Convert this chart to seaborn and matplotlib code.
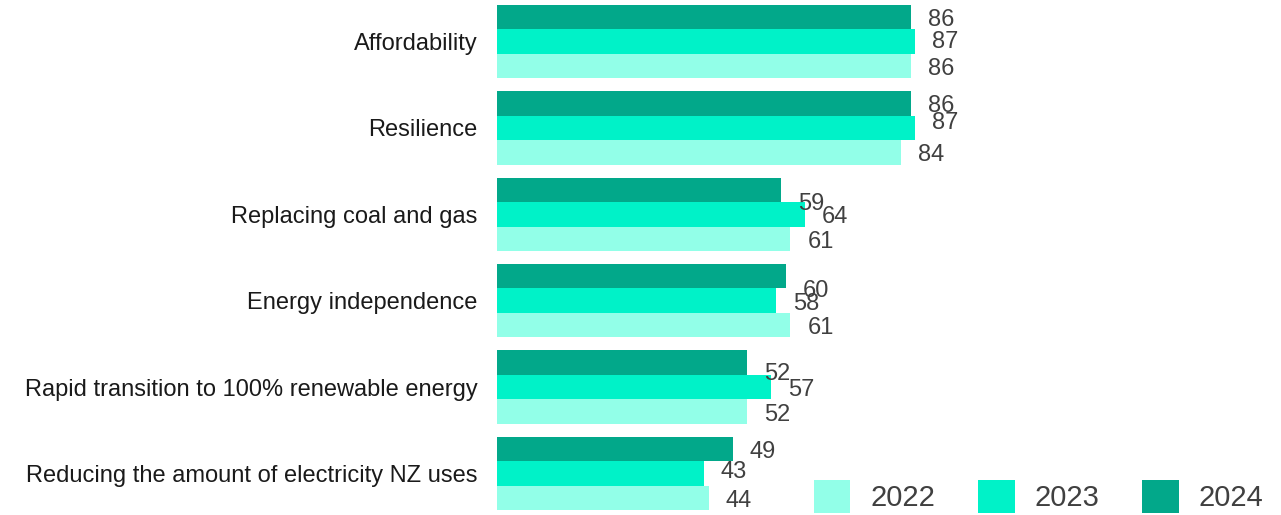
import matplotlib.pyplot as plt
import pandas as pd
import seaborn as sns
from matplotlib.patches import Patch

categories = [
    "Affordability",
    "Resilience",
    "Replacing coal and gas",
    "Energy independence",
    "Rapid transition to 100% renewable energy",
    "Reducing the amount of electricity NZ uses",
]
years = ["2022", "2023", "2024"]
values_2022 = [86, 84, 61, 61, 52, 44]
values_2023 = [87, 87, 64, 58, 57, 43]
values_2024 = [86, 86, 59, 60, 52, 49]

COLORS = {"2022": "#92FFE8", "2023": "#00F2C8", "2024": "#02A88A"}
TEXT = "#404040"

# manual label nudges (pixels, down is positive) to mimic the original placement
nudge = {
    ("2023", "Affordability"): -2,
    ("2023", "Resilience"): -8,
    ("2024", "Replacing coal and gas"): 11,
    ("2024", "Energy independence"): 12,
    ("2024", "Rapid transition to 100% renewable energy"): 8,
    ("2023", "Reducing the amount of electricity NZ uses"): -5,
}

df = pd.DataFrame({
    "category": categories * 3,
    "year": ["2022"] * 6 + ["2023"] * 6 + ["2024"] * 6,
    "value": values_2022 + values_2023 + values_2024,
})

sns.set_style("white")
plt.rcParams["font.family"] = ["Liberation Sans", "DejaVu Sans"]

fig = plt.figure(figsize=(12.81, 5.15), dpi=100)
ax = fig.add_axes([497 / 1281, 0.0, 784 / 1281, 1.0])

hue_order = ["2024", "2023", "2022"]
sns.barplot(
    data=df, y="category", x="value", hue="year",
    order=categories, hue_order=hue_order, palette=COLORS,
    orient="h", width=0.85, linewidth=0, saturation=1,
    legend=False, ax=ax,
)

ax.set_xlim(0, 163)
ax.set_ylim(5.48, -0.48)
ax.set_xlabel("")
ax.set_ylabel("")
ax.set_xticks([])
ax.tick_params(axis="y", length=0, pad=14, labelsize=17, labelcolor="#1a1a1a")
sns.despine(ax=ax, left=True, bottom=True)

for year, container in zip(hue_order, ax.containers):
    for cat, bar in zip(categories, container):
        w = bar.get_width()
        yc = bar.get_y() + bar.get_height() / 2
        dy = nudge.get((year, cat), 0) + 3
        ax.annotate(
            f"{w:.0f}", (w, yc), xytext=(17, -dy), textcoords="offset pixels",
            ha="left", va="center", fontsize=17, color=TEXT,
        )

handles = [Patch(facecolor=COLORS[y], edgecolor="none") for y in years]
fig.legend(
    handles, years, loc="lower left", bbox_to_anchor=(814 / 1281, 2 / 515),
    ncol=3, frameon=False, fontsize=21, handlelength=1.25, handleheight=1.35,
    handletextpad=0.7, columnspacing=1.45, borderpad=0, borderaxespad=0,
    labelcolor=TEXT,
)

fig.savefig("out.png", dpi=100)
